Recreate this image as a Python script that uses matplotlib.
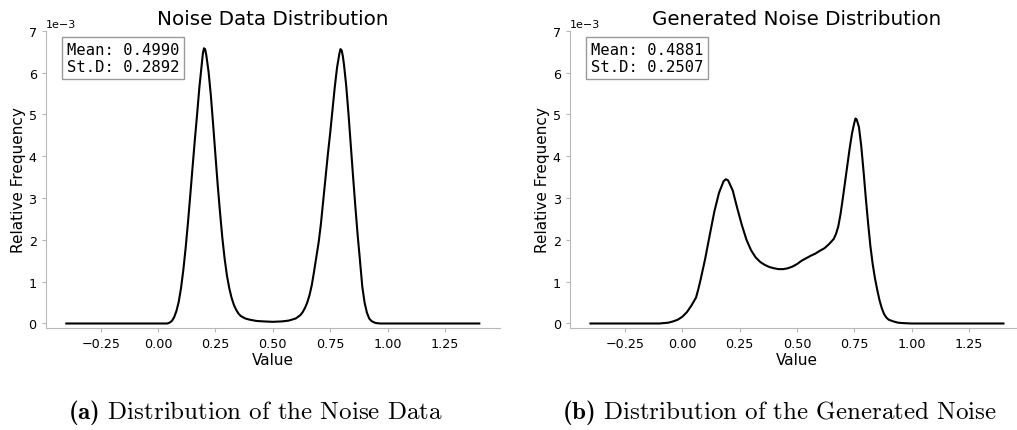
import matplotlib
matplotlib.use('Agg')
import matplotlib.pyplot as plt
import numpy as np

plt.rcParams['mathtext.fontset'] = 'custom'
plt.rcParams['mathtext.rm'] = 'cmr10'
plt.rcParams['mathtext.bf'] = 'cmb10'

# noise data (left), relative frequency in units of 1e-3
noise_x = [-0.40, -0.20, 0.00, 0.04, 0.05, 0.06, 0.07, 0.08, 0.09, 0.10, 0.11, 0.12,
           0.13, 0.14, 0.15, 0.16, 0.17, 0.18, 0.19, 0.195, 0.20, 0.205, 0.21, 0.22,
           0.23, 0.24, 0.25, 0.26, 0.27, 0.28, 0.29, 0.30, 0.31, 0.32, 0.33, 0.34,
           0.35, 0.36, 0.38, 0.40, 0.43, 0.46, 0.50, 0.54, 0.57, 0.60, 0.62, 0.63,
           0.64, 0.65, 0.66, 0.67, 0.68, 0.69, 0.70, 0.71, 0.72, 0.73, 0.74, 0.75,
           0.76, 0.77, 0.78, 0.79, 0.795, 0.80, 0.805, 0.81, 0.82, 0.83, 0.84, 0.85,
           0.86, 0.87, 0.88, 0.89, 0.90, 0.91, 0.92, 0.93, 0.94, 0.95, 0.97, 1.00,
           1.20, 1.40]
noise_y = [0.00, 0.00, 0.00, 0.00, 0.02, 0.06, 0.15, 0.30, 0.52, 0.85, 1.28, 1.80,
           2.40, 3.05, 3.72, 4.38, 5.00, 5.65, 6.18, 6.45, 6.58, 6.56, 6.42, 6.02,
           5.45, 4.75, 4.02, 3.30, 2.65, 2.05, 1.55, 1.15, 0.85, 0.62, 0.45, 0.33,
           0.24, 0.18, 0.12, 0.09, 0.06, 0.05, 0.04, 0.05, 0.07, 0.12, 0.20, 0.27,
           0.37, 0.50, 0.68, 0.92, 1.25, 1.60, 1.95, 2.40, 2.95, 3.50, 4.05, 4.55,
           5.10, 5.65, 6.12, 6.45, 6.56, 6.53, 6.40, 6.20, 5.68, 5.00, 4.25, 3.50,
           2.78, 2.10, 1.50, 0.88, 0.50, 0.26, 0.12, 0.06, 0.03, 0.01, 0.00, 0.00,
           0.00, 0.00]

# generated noise (right)
gen_x = [-0.40, -0.20, -0.10, -0.08, -0.06, -0.04, -0.02, 0.00, 0.02, 0.04, 0.06, 0.07,
         0.08, 0.09, 0.10, 0.12, 0.14, 0.16, 0.18, 0.19, 0.20, 0.22, 0.24, 0.26,
         0.28, 0.30, 0.32, 0.34, 0.36, 0.38, 0.40, 0.42, 0.44, 0.46, 0.48, 0.50,
         0.52, 0.54, 0.56, 0.58, 0.60, 0.62, 0.64, 0.66, 0.67, 0.68, 0.69, 0.70,
         0.71, 0.72, 0.73, 0.74, 0.75, 0.755, 0.76, 0.77, 0.78, 0.79, 0.80, 0.81,
         0.82, 0.83, 0.84, 0.85, 0.86, 0.87, 0.88, 0.89, 0.90, 0.92, 0.94, 0.96,
         1.00, 1.20, 1.40]
gen_y = [0.00, 0.00, 0.00, 0.01, 0.02, 0.05, 0.09, 0.16, 0.27, 0.43, 0.62, 0.82,
         1.05, 1.30, 1.55, 2.12, 2.68, 3.12, 3.40, 3.45, 3.42, 3.18, 2.75, 2.35,
         2.00, 1.75, 1.58, 1.47, 1.40, 1.35, 1.32, 1.30, 1.30, 1.32, 1.36, 1.42,
         1.50, 1.56, 1.62, 1.67, 1.74, 1.80, 1.90, 2.02, 2.14, 2.32, 2.62, 3.00,
         3.40, 3.80, 4.20, 4.55, 4.80, 4.90, 4.88, 4.70, 4.25, 3.65, 3.00, 2.40,
         1.85, 1.42, 1.08, 0.80, 0.55, 0.36, 0.22, 0.14, 0.09, 0.05, 0.02, 0.01,
         0.00, 0.00, 0.00]

titles = ['Noise Data Distribution', 'Generated Noise Distribution']
stats = ['Mean: 0.4990\nSt.D: 0.2892', 'Mean: 0.4881\nSt.D: 0.2507']
captions = [r'$\mathbf{(a)}\ \mathrm{Distribution\ of\ the\ Noise\ Data}$',
            r'$\mathbf{(b)}\ \mathrm{Distribution\ of\ the\ Generated\ Noise}$']
xticks = [-0.25, 0.0, 0.25, 0.5, 0.75, 1.0, 1.25]

fig = plt.figure(figsize=(10.17, 4.31), dpi=100)
ax1 = fig.add_axes([0.0449, 0.2374, 0.4467, 0.689])
ax2 = fig.add_axes([0.5603, 0.2374, 0.4467, 0.689])

data = [(noise_x, noise_y), (gen_x, gen_y)]
cap_x = [0.2507, 0.766]
for i, ax in enumerate([ax1, ax2]):
    xs, ys = data[i]
    ax.plot(xs, np.array(ys) * 1e-3, color='black', lw=1.5)
    ax.set_xlim(-0.49, 1.49)
    ax.set_ylim(-0.0001, 0.007)
    ax.set_xticks(xticks)
    ax.ticklabel_format(style='sci', axis='y', scilimits=(0, 0))
    ax.yaxis.get_offset_text().set_fontsize(8)
    ax.set_title(titles[i], fontsize=14.3, pad=5)
    ax.set_xlabel('Value', fontsize=11, labelpad=2)
    ax.set_ylabel('Relative Frequency', fontsize=11, labelpad=2)
    for s in ['top', 'right']:
        ax.spines[s].set_visible(False)
    for s in ['left', 'bottom']:
        ax.spines[s].set_color('0.72')
    ax.tick_params(colors='0.72', labelcolor='black', labelsize=9.2, length=3)
    ax.text(0.046, 0.963, stats[i], transform=ax.transAxes, family='monospace',
            fontsize=11.2, va='top', ha='left',
            bbox=dict(boxstyle='square,pad=0.3', facecolor='white', edgecolor='0.6'))
    fig.text(cap_x[i], 0.044, captions[i], ha='center', va='center', fontsize=18)

fig.savefig('out.png', dpi=100)
